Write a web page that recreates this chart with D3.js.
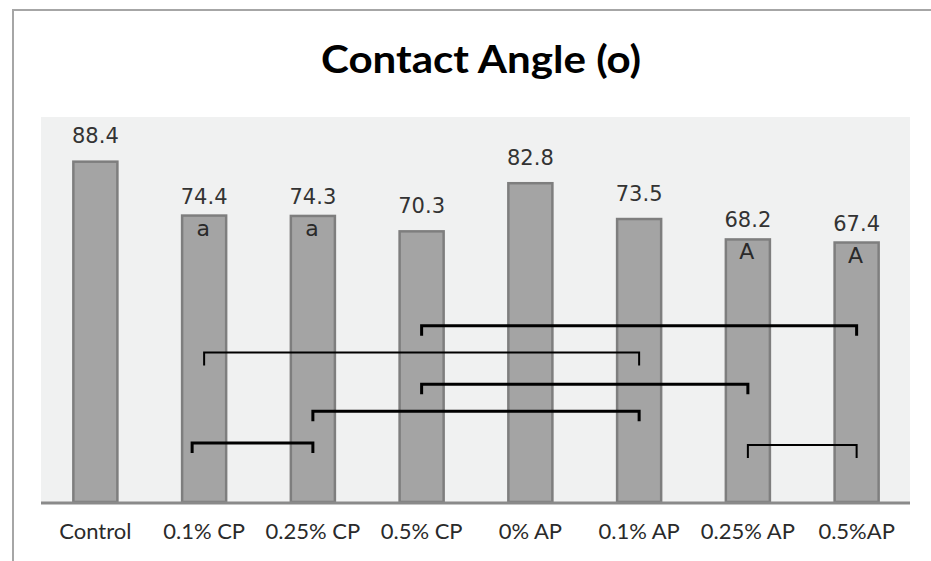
<!DOCTYPE html>
<html>
<head>
<meta charset="utf-8">
<script src="https://cdn.jsdelivr.net/npm/d3@7"></script>
<style>
  html, body { margin: 0; padding: 0; background: #ffffff; overflow: hidden; }
  svg { display: block; }
</style>
</head>
<body>
<svg id="chart" width="931" height="561"></svg>
<script>
// ---- data ----
const categories = ["Control", "0.1% CP", "0.25% CP", "0.5% CP", "0% AP", "0.1% AP", "0.25% AP", "0.5%AP"];
const values = [88.4, 74.4, 74.3, 70.3, 82.8, 73.5, 68.2, 67.4];
const letters = ["", "a", "a", "", "", "", "A", "A"];
const yDomain = [0, 100];
const titleText = "Contact Angle (o)";
// significance brackets: from category, to category, level (in angle units)
const bracketFrom = ["0.5% CP", "0.1% CP", "0.5% CP", "0.25% CP", "0.1% CP", "0.25% AP"];
const bracketTo = ["0.5%AP", "0.1% AP", "0.25% AP", "0.1% AP", "0.25% CP", "0.5%AP"];
const bracketLevel = [45.8, 38.8, 30.6, 23.6, 15.3, 14.8];

// ---- layout ----
const plot = { left: 41, right: 910, top: 117, bottom: 502 };
const svg = d3.select("#chart");

// outer chart border (top and left edges visible)
svg.append("path")
  .attr("d", "M13,561V10H931")
  .attr("fill", "none").attr("stroke", "#a6a6a6").attr("stroke-width", 2);

// plot background
svg.append("rect")
  .attr("x", plot.left).attr("y", plot.top)
  .attr("width", plot.right - plot.left).attr("height", plot.bottom - plot.top)
  .attr("fill", "#f0f1f1");

// title
svg.append("text")
  .attr("x", 481).attr("y", 73)
  .attr("text-anchor", "middle")
  .attr("font-family", "Lato, 'Open Sans', sans-serif")
  .attr("font-weight", "bold")
  .attr("font-size", 38)
  .attr("fill", "#000000")
  .attr("textLength", 320)
  .attr("lengthAdjust", "spacingAndGlyphs")
  .text(titleText);

// scales
const x = d3.scaleBand()
  .domain(categories)
  .range([plot.left, 911])
  .paddingInner(0.595)
  .paddingOuter(0.2975);
const y = d3.scaleLinear().domain(yDomain).range([plot.bottom, plot.top]);

const data = categories.map((c, i) => ({ c, v: values[i], l: letters[i] }));

// bars
svg.append("g").selectAll("rect")
  .data(data).join("rect")
  .attr("x", d => x(d.c))
  .attr("y", d => y(d.v))
  .attr("width", x.bandwidth())
  .attr("height", d => y(0) - y(d.v))
  .attr("fill", "#a4a4a4")
  .attr("stroke", "#7e7e7e")
  .attr("stroke-width", 2.5);

// x axis (baseline + category labels)
const xAxis = d3.axisBottom(x).tickSize(0).tickPadding(0);
const gx = svg.append("g")
  .attr("transform", `translate(0,${y(0) + 1})`)
  .call(xAxis);
gx.select(".domain")
  .attr("d", `M${plot.left},0H${plot.right}`)
  .attr("stroke", "#8a8a8a").attr("stroke-width", 3);
gx.selectAll(".tick text")
  .attr("dy", null)
  .attr("y", 36)
  .attr("font-family", "Lato, 'Open Sans', sans-serif")
  .attr("font-size", 22)
  .attr("fill", "#2a2a2a");

// value labels
svg.append("g").selectAll("text")
  .data(data).join("text")
  .attr("x", d => x(d.c) + x.bandwidth() / 2)
  .attr("y", d => y(d.v) - (d.l ? 12 : 18.5))
  .attr("text-anchor", "middle")
  .attr("font-family", "'DejaVu Sans', sans-serif")
  .attr("font-size", 21)
  .attr("fill", "#333333")
  .text(d => d.v.toFixed(1));

// letters inside bars
svg.append("g").selectAll("text")
  .data(data.filter(d => d.l)).join("text")
  .attr("x", d => x(d.c) + x.bandwidth() / 2 - 1)
  .attr("y", d => y(d.v) + 20)
  .attr("text-anchor", "middle")
  .attr("font-family", "'DejaVu Sans', sans-serif")
  .attr("font-size", 22)
  .attr("fill", "#2a2a2a")
  .text(d => d.l);

// significance brackets
const thin = new Set([1, 5]);
const leftShift = new Map([[4, 12]]);
const bg = svg.append("g").attr("fill", "none").attr("stroke", "#000000");
bracketFrom.forEach((f, i) => {
  const x1 = x(f) + x.bandwidth() / 2 - (leftShift.get(i) || 0);
  const x2 = x(bracketTo[i]) + x.bandwidth() / 2;
  const yy = y(bracketLevel[i]);
  const drop = thin.has(i) ? 13 : 10;
  bg.append("path")
    .attr("d", `M${x1},${yy + drop}V${yy}H${x2}V${yy + drop}`)
    .attr("stroke-width", thin.has(i) ? 2 : 3);
});
</script>
</body>
</html>
